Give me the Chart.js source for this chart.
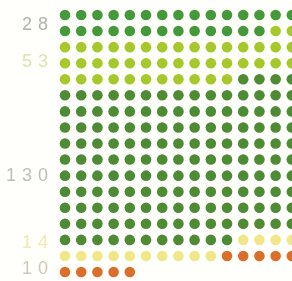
<!DOCTYPE html>
<html>
<head>
<meta charset="utf-8">
<script src="https://cdn.jsdelivr.net/npm/chart.js@4/dist/chart.umd.min.js"></script>
<style>
  html, body { margin: 0; padding: 0; background: #fffffb; }
  #wrap { width: 292px; height: 281px; position: relative; }
</style>
</head>
<body>
<div id="wrap"><canvas id="dots"></canvas></div>
<script>
// category labels shown on the left
const categories = ['28', '53', '130', '14', '10'];
// number of dots drawn for each category (counted from the picture)
const dotCounts = [28, 43, 150, 14, 10];
const dotColors = ['#44993a', '#a7c72b', '#4f8a34', '#f0e68a', '#dc6e2c'];
const labelColors = ['#b2b3aa', '#dfe3ae', '#bdbdbb', '#f3e8b0', '#d2c7bd'];

// layout
const COLS = 15;
const labelRows = [1.62, 3.92, 11.05, 15.17, 16.8];

// fill the grid left to right, top to bottom
let n = 0;
const datasets = dotCounts.map((count, i) => {
    const pts = [];
    for (let k = 0; k < count; k++) {
        pts.push({ x: (n % COLS) + 1, y: Math.floor(n / COLS) + 1 });
        n++;
    }
    return {
        label: categories[i],
        data: pts,
        backgroundColor: dotColors[i],
        borderWidth: 0,
        pointRadius: 5.3,
        pointHoverRadius: 5.3
    };
});

// letter spaced tick labels
const spacing = {
    id: 'spacing',
    beforeDraw(chart) { chart.ctx.letterSpacing = '6px'; },
    afterDraw(chart) { chart.ctx.letterSpacing = '0px'; }
};

new Chart(document.getElementById('dots'), {
    type: 'scatter',
    data: { datasets },
    options: {
        responsive: true,
        maintainAspectRatio: false,
        animation: false,
        layout: { padding: 0, autoPadding: false },
        plugins: { legend: { display: false }, tooltip: { enabled: false } },
        scales: {
            x: {
                display: false,
                min: 0.568,
                max: 15.01
            },
            y: {
                reverse: true,
                min: 0.066,
                max: 17.56,
                grid: { display: false, drawTicks: false },
                border: { display: false },
                afterFit(scale) {
                    scale.width = 58;
                    scale.paddingTop = 0;
                    scale.paddingBottom = 0;
                },
                afterBuildTicks(scale) {
                    scale.ticks = labelRows.map(v => ({ value: v }));
                },
                ticks: {
                    padding: 4,
                    font: { family: 'Liberation Sans', size: 18 },
                    color: ctx => labelColors[ctx.index],
                    callback: (v, i) => categories[i]
                }
            }
        }
    },
    plugins: [spacing]
});
</script>
</body>
</html>
